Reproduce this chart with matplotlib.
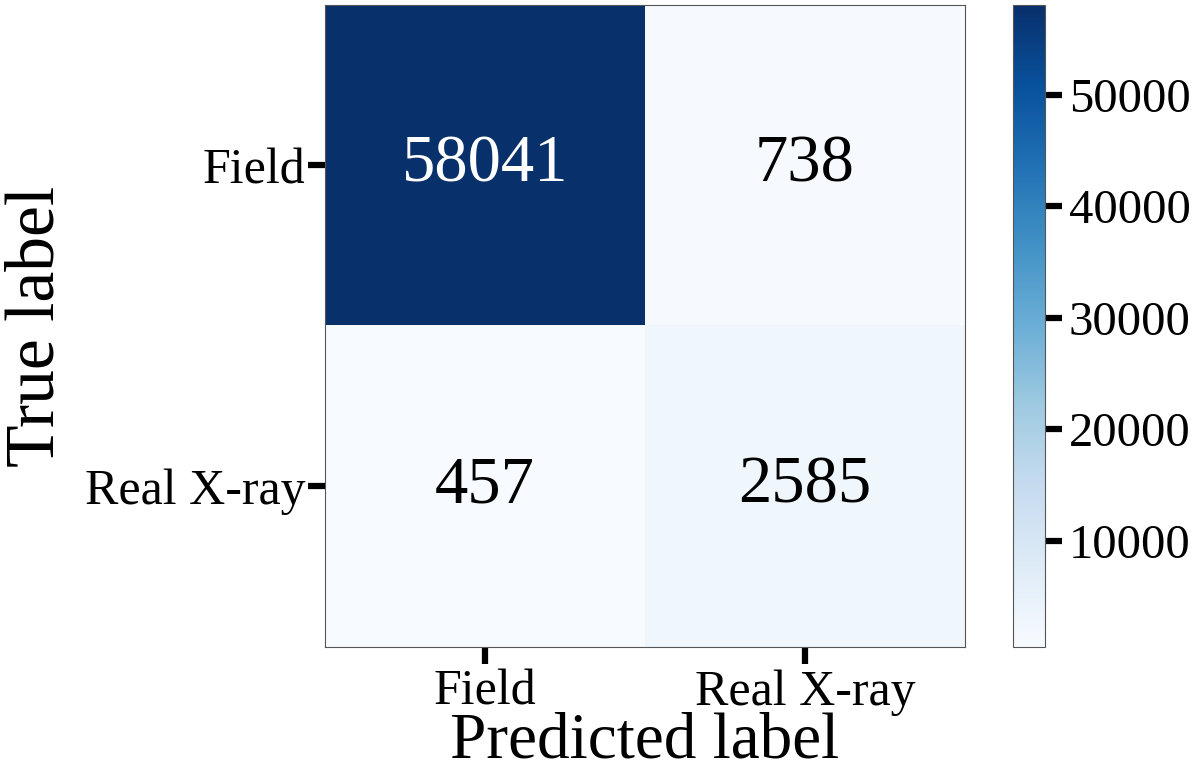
import numpy as np
import matplotlib
matplotlib.use("Agg")
import matplotlib.pyplot as plt

categories = ["Field", "Real X-ray"]
counts = [[58041, 738], [457, 2585]]
cbar_ticks = [10000, 20000, 30000, 40000, 50000]

plt.rcParams['font.family'] = ['Liberation Serif', 'DejaVu Serif']
plt.rcParams['mathtext.fontset'] = 'stix'

cm = np.array(counts)
fig = plt.figure(figsize=(12, 7.78), dpi=100)
ax = fig.add_axes([0.2708, 0.1684, 0.5333, 0.8252])
cax = fig.add_axes([0.8442, 0.1684, 0.0267, 0.8252])

im = ax.imshow(cm, cmap='Blues', aspect='auto', interpolation='nearest')
ax.set_xticks(range(len(categories)))
ax.set_yticks(range(len(categories)))
ax.set_xticklabels(categories, fontsize=36)
ax.set_yticklabels(categories, fontsize=36)
ax.tick_params(axis='both', width=4.5, length=12, direction='out', pad=2)
ax.tick_params(axis='x', pad=4)
ax.set_xlabel("Predicted label", fontsize=47, labelpad=-3)
ax.set_ylabel("True label", fontsize=50, labelpad=12)
for s in ax.spines.values():
    s.set_color('#555555')
    s.set_linewidth(0.8)

thresh = cm.max() / 2.0
for i in range(cm.shape[0]):
    for j in range(cm.shape[1]):
        ax.text(j, i, f"{cm[i, j]}", ha='center', va='center', fontsize=48,
                color='white' if cm[i, j] > thresh else 'black')

cb = fig.colorbar(im, cax=cax, ticks=cbar_ticks)
cb.ax.tick_params(labelsize=35, width=4.5, length=12, direction='out', pad=5)
cb.outline.set_edgecolor('#555555')
cb.outline.set_linewidth(0.8)

fig.savefig("out.png", dpi=100)
